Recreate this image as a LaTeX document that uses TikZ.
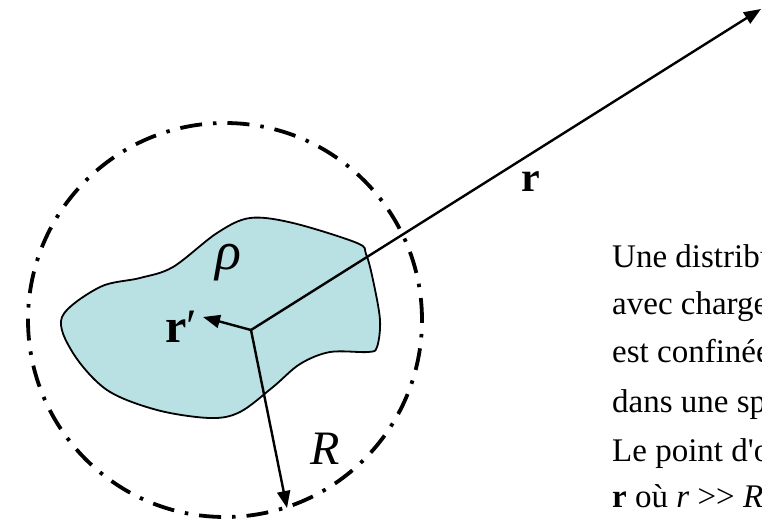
\documentclass[tikz,border=0pt]{standalone}
\usepackage{fontspec}
\setmainfont{Liberation Serif}[Ligatures=TeXOff]
\usetikzlibrary{arrows.meta}
\begin{document}
\begin{tikzpicture}[x=1pt,y=-1pt,
  vec/.style={line width=2.4pt,-{Triangle[length=17pt,width=13pt]}},
  lbl/.style={inner sep=0pt,font=\fontsize{48}{50}\selectfont},
  txt/.style={inner sep=0pt,anchor=base west,font=\fontsize{33}{48}\selectfont},
  sphere/.style={line width=3.8pt,dash pattern=on 22pt off 11pt on 3.5pt off 11pt}]
\useasboundingbox (0,0) rectangle (762,522);
\definecolor{blob}{RGB}{185,224,227}
% charge distribution
\draw[line width=1.8pt,fill=blob] plot[smooth cycle,tension=0.55] coordinates {
  (62,317) (100,287) (140,278) (173,267) (217,233) (250,218) (293,223)
  (357,243) (366,254) (373,280) (380,320) (377,347) (368,352) (330,352)
  (300,364) (273,387) (240,412) (210,418) (157,410) (107,390) (73,353)};
% bounding sphere
\draw[sphere] (225,320) circle[radius=197pt];
% vectors
\coordinate (O) at (251,330);
\coordinate (rtip) at (761,9);
\coordinate (rptip) at (203,317);
\coordinate (Rtip) at (287,508);
\draw[vec] (O) -- (rtip);
\draw[vec] (O) -- (rptip);
\draw[vec] (O) -- (Rtip);
% labels
\node[lbl,font=\fontsize{42}{44}\selectfont] (lr) at (531,182) {\textbf{r}};
\node[lbl,font=\fontsize{54}{56}\selectfont] (lrho) at (228,263) {\textit{ρ}};
\node[lbl] (lrp) at (181,327) {\textbf{r}′};
\node[lbl] (lR) at (325,449) {\textit{R}};
% text
\node[txt] (t1) at (612,267) {Une distribu};
\node[txt] (t2) at (612,314) {avec charge};
\node[txt] (t3) at (612,362) {est confinée};
\node[txt] (t4) at (612,412) {dans une sp};
\node[txt] (t5) at (612,461) {Le point d'o};
\node[txt] (t6) at (612,507) {\textbf{r} où \textit{r} >> \textit{R}};
\end{tikzpicture}
\end{document}
